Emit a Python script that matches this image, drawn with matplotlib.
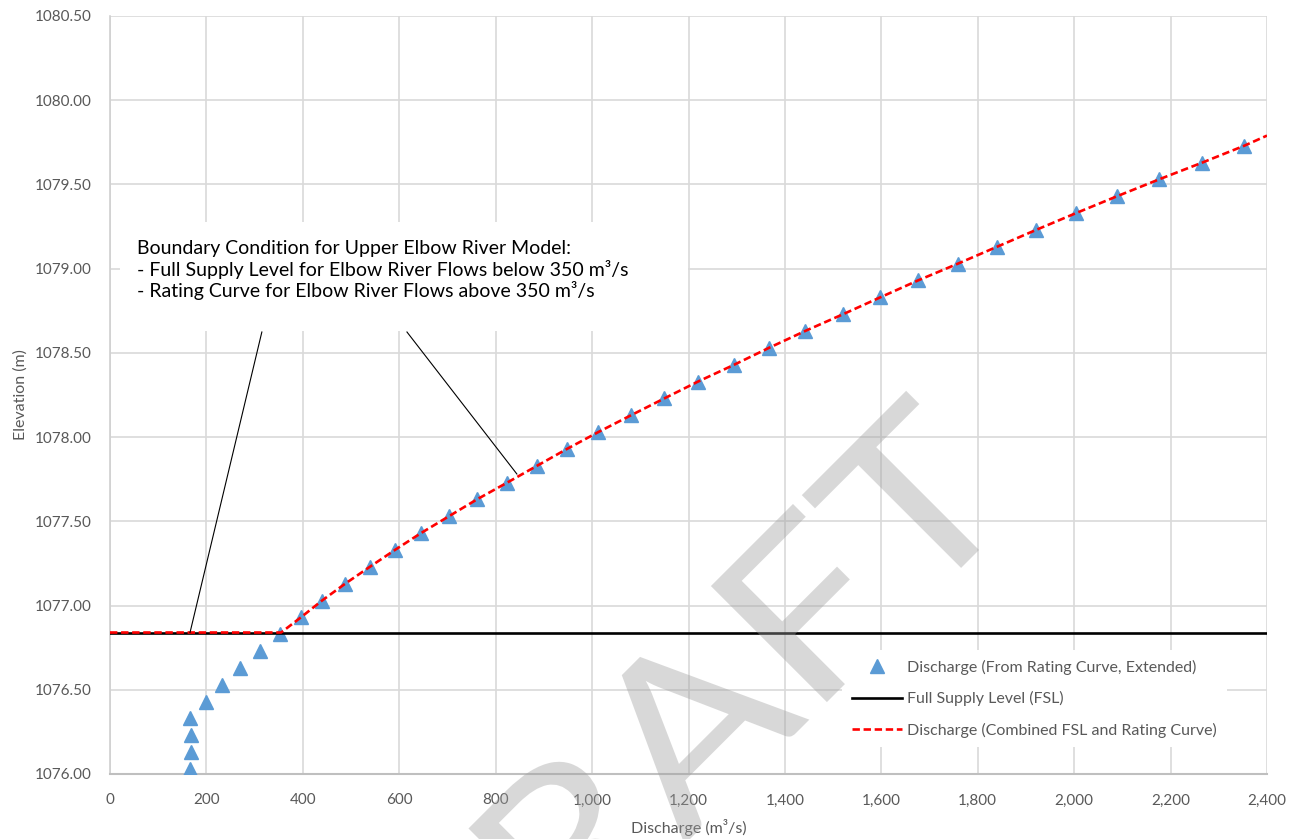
import matplotlib
matplotlib.use("Agg")
import matplotlib.pyplot as plt
from matplotlib.patches import Rectangle, PathPatch
from matplotlib.textpath import TextPath
from matplotlib.font_manager import FontProperties
from matplotlib.transforms import Affine2D
from matplotlib.ticker import FuncFormatter, MultipleLocator

plt.rcParams['font.family'] = ['Lato', 'DejaVu Sans']

# rating curve (extended)
rating_elev = [1076.03, 1076.13, 1076.23, 1076.33, 1076.43, 1076.53, 1076.63,
               1076.73, 1076.83, 1076.93, 1077.03, 1077.13, 1077.23, 1077.33,
               1077.43, 1077.53, 1077.63, 1077.73, 1077.83, 1077.93, 1078.03,
               1078.13, 1078.23, 1078.33, 1078.43, 1078.53, 1078.63, 1078.73,
               1078.83, 1078.93, 1079.03, 1079.13, 1079.23, 1079.33, 1079.43,
               1079.53, 1079.63, 1079.73]
rating_q = [166, 168, 168, 166, 199, 232, 270, 311, 353, 396, 440, 488, 539,
            591, 645, 703, 761, 824, 886, 948, 1013, 1081, 1150, 1220, 1295,
            1367, 1442, 1521, 1598, 1676, 1759, 1840, 1921, 2004, 2089, 2176,
            2266, 2353]

fsl = 1076.84
fsl_q = [0, 2400]

# combined FSL + rating curve
comb_q = [0, 355] + rating_q[9:] + [2400]
comb_elev = [fsl, fsl] + rating_elev[9:] + [1079.79]

note_lines = ["Boundary Condition for Upper Elbow River Model:",
              "- Full Supply Level for Elbow River Flows below 350 m\u00b3/s",
              "- Rating Curve for Elbow River Flows above 350 m\u00b3/s"]

grey = '#595959'
W, H = 1294, 839

fig = plt.figure(figsize=(W / 100, H / 100), dpi=100)
ax = fig.add_axes([110 / W, 1 - 774 / H, 1157 / W, 758 / H])

ax.plot(rating_q, rating_elev, linestyle='none', marker='^', markersize=9.5,
        color='#5b9bd5', label='Discharge (From Rating Curve, Extended)', zorder=3)
ax.plot(fsl_q, [fsl, fsl], color='black', linewidth=1.9,
        label='Full Supply Level (FSL)', zorder=4)
ax.plot(comb_q, comb_elev, color='#ff0000', linewidth=1.9, dashes=(2.8, 1.4),
        label='Discharge (Combined FSL and Rating Curve)', zorder=5)

ax.set_xlim(0, 2400)
ax.set_ylim(1076.0, 1080.5)
ax.xaxis.set_major_locator(MultipleLocator(200))
ax.yaxis.set_major_locator(MultipleLocator(0.5))
ax.xaxis.set_major_formatter(FuncFormatter(lambda v, p: f"{v:,.0f}"))
ax.yaxis.set_major_formatter(FuncFormatter(lambda v, p: f"{v:.2f}"))
ax.grid(True, color='#d9d9d9', linewidth=1.2, zorder=0)
ax.set_axisbelow(True)
ax.tick_params(length=0, labelsize=11, labelcolor=grey)
ax.tick_params(axis='x', pad=14)
ax.tick_params(axis='y', pad=13)
for s in ['top', 'right']:
    ax.spines[s].set_visible(False)
ax.spines['left'].set_color('#d0d0d0')
ax.spines['left'].set_linewidth(1.2)
ax.spines['bottom'].set_color('#bfbfbf')
ax.spines['bottom'].set_linewidth(1.5)

ax.set_xlabel("Discharge (m\u00b3/s)", fontsize=11.5, color=grey, labelpad=8)
ax.set_ylabel("Elevation (m)", fontsize=11.5, color=grey, labelpad=5)

# annotation box and leader lines
ax.add_patch(Rectangle((10 / 1157, (774 - 331) / 758), 568 / 1157, 109 / 758,
                       transform=ax.transAxes, facecolor='white',
                       edgecolor='none', zorder=6))
ax.text(27 / 1157, (774 - 240) / 758, "\n".join(note_lines),
        transform=ax.transAxes, fontsize=14, color='black', va='top',
        ha='left', linespacing=1.16, zorder=7)
ax.plot([315, 166], [1078.624, fsl], color='black', linewidth=0.8, zorder=6)
ax.plot([616, 844], [1078.624, 1077.781], color='black', linewidth=0.8, zorder=6)

leg = ax.legend(loc='upper left', bbox_to_anchor=(842 / W, 1 - 650 / H),
                bbox_transform=fig.transFigure, borderaxespad=0, borderpad=0.6,
                frameon=True, facecolor='white', edgecolor='none', framealpha=1,
                fancybox=False, fontsize=11.5, labelspacing=1.03,
                handlelength=3.15, handletextpad=0.35)
for t in leg.get_texts():
    t.set_color(grey)
leg.set_zorder(8)

# DRAFT watermark: stretched, rotated text outline placed in pixel space
fp = FontProperties(family='Lato')
wm = TextPath((0, 0), "DRAFT", size=1, prop=fp)
ext = wm.get_extents()
t_w = TextPath((0, 0), "T", size=1, prop=fp).get_extents().width
t_centre = ext.x1 - t_w / 2
wm_tr = (Affine2D().translate(-t_centre, 0).scale(263, 229)
         .rotate_deg(45).translate(970, H - 559))
fig.add_artist(PathPatch(wm, transform=wm_tr, facecolor='#9f9f9f',
                         edgecolor='none', alpha=0.4, zorder=10))

fig.savefig("out.png", dpi=100)
